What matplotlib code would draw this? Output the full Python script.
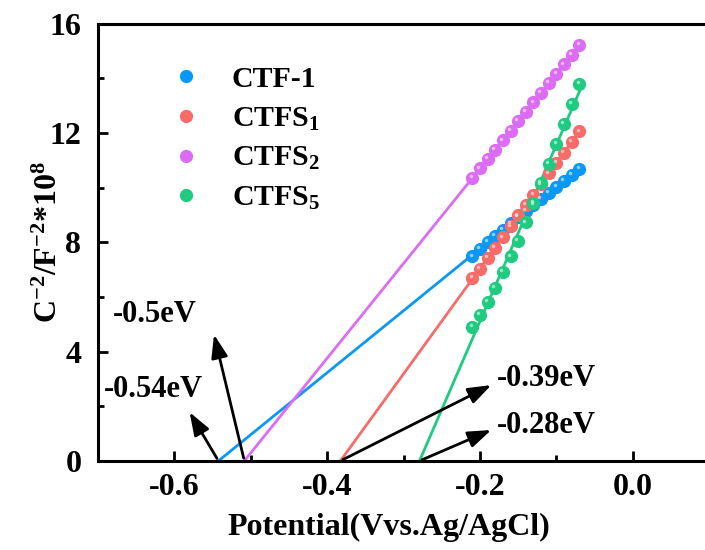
import numpy as np
import matplotlib
matplotlib.use("Agg")
import matplotlib.pyplot as plt
from matplotlib.transforms import offset_copy

plt.rcParams['font.family'] = ['Liberation Serif', 'DejaVu Serif']
plt.rcParams['font.weight'] = 'bold'
plt.rcParams['axes.unicode_minus'] = False
plt.rcParams['mathtext.fontset'] = 'custom'
plt.rcParams['mathtext.rm'] = 'Liberation Serif:bold'
plt.rcParams['mathtext.bf'] = 'Liberation Serif:bold'
plt.rcParams['mathtext.it'] = 'Liberation Serif:bold'
plt.rcParams['mathtext.default'] = 'bf'

# potential (V vs Ag/AgCl)
potential = [-0.21, -0.20, -0.19, -0.18, -0.17, -0.16, -0.15, -0.14,
             -0.13, -0.12, -0.11, -0.10, -0.09, -0.08, -0.07]

ctf1 = [7.48, 7.76, 8.01, 8.22, 8.46, 8.69, 8.92, 9.15, 9.37, 9.59, 9.82, 10.04, 10.26, 10.47, 10.68]
ctfs1 = [6.69, 7.04, 7.43, 7.80, 8.18, 8.58, 8.98, 9.36, 9.74, 10.12, 10.52, 10.90, 11.28, 11.68, 12.06]
ctfs2 = [10.35, 10.70, 11.05, 11.39, 11.73, 12.08, 12.43, 12.78, 13.12, 13.47, 13.82, 14.16, 14.51, 14.86, 15.21]
ctfs5 = [4.90, 5.35, 5.83, 6.32, 6.91, 7.48, 8.05, 8.73, 9.44, 10.17, 10.87, 11.60, 12.33, 13.07, 13.79]

series = [ctf1, ctfs1, ctfs2, ctfs5]
labels = ['CTF-1', 'CTFS$_1$', 'CTFS$_2$', 'CTFS$_5$']
colors = ['#0a98f7', '#f76b68', '#dc6cf6', '#1ecb80']
eV_labels = ['-0.54eV', '-0.39eV', '-0.5eV', '-0.28eV']
# label position and arrow tip (data coords)
text_pos = [(-0.692, 2.62), (-0.178, 3.0), (-0.68, 5.35), (-0.178, 1.3)]
arrow_tip = [(-0.582, 1.87), (-0.182, 2.82), (-0.549, 4.72), (-0.182, 1.17)]

fig = plt.figure(figsize=(7.05, 5.5), dpi=100)
ax = fig.add_axes([0.139, 0.162, 0.867, 0.795])

x = np.array(potential)
for y, lab, c in zip(series, labels, colors):
    k, b = np.polyfit(x, y, 1)
    x0 = -b / k
    xs = np.array([x0, x[-1]])
    ax.plot(xs, k * xs + b, color=c, lw=2, zorder=2)
    ax.plot(x, y, 'o', color=c, ms=8.5, mec=c, label=lab, zorder=3)
    hl = offset_copy(ax.transData, fig=fig, x=-1.3, y=1.3, units='points')
    ax.plot(x, y, 'o', color='white', ms=2.5, mec='none', alpha=0.55, transform=hl, zorder=4)

for y, txt, tp, tip in zip(series, eV_labels, text_pos, arrow_tip):
    k, b = np.polyfit(x, y, 1)
    ax.annotate('', xy=tip, xytext=(-b / k, 0),
                arrowprops=dict(arrowstyle='-|>,head_length=0.7,head_width=0.25',
                                color='black', lw=2, mutation_scale=20))
    ax.text(tp[0], tp[1], txt, fontsize=22, fontweight='bold', va='center', ha='left')

ax.set_xlim(-0.7, 0.1)
ax.set_ylim(0, 16)
ax.set_xticks([-0.6, -0.4, -0.2, 0.0])
ax.set_xticks([-0.5, -0.3, -0.1], minor=True)
ax.set_yticks([0, 4, 8, 12, 16])
ax.set_yticks([2, 6, 10, 14], minor=True)
ax.tick_params(which='both', direction='in', width=2, labelsize=23)
ax.tick_params(axis='x', which='major', pad=9)
ax.tick_params(axis='y', which='major', pad=12)
ax.tick_params(which='major', length=7)
ax.tick_params(which='minor', length=4)
for s in ax.spines.values():
    s.set_linewidth(2.2)

ax.set_xlabel('Potential(Vvs.Ag/AgCl)', fontsize=23, fontweight='bold')
ax.set_ylabel('C$^{-2}$/F$^{-2}$*10$^8$', fontsize=23, fontweight='bold')
ax.xaxis.set_label_coords(0.475, -0.12)
ax.yaxis.set_label_coords(-0.056, 0.5)

ax.legend(loc='upper left', bbox_to_anchor=(0.07, 0.965), frameon=False, fontsize=21.5,
          handletextpad=0.95, labelspacing=0.42, markerscale=1.0, handlelength=1.2)

fig.savefig('out.png', dpi=100)
